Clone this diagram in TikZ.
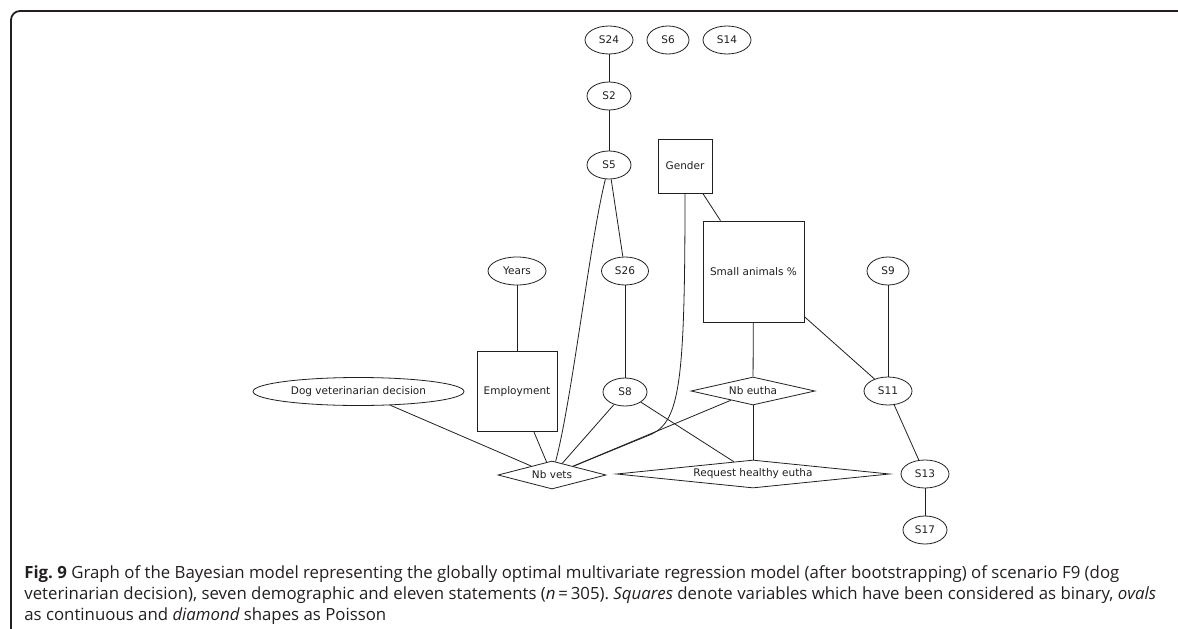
\documentclass[tikz,border=0pt]{standalone}
\usepackage{fontspec}
\usetikzlibrary{shapes.geometric}
\newfontfamily\graphfont{DejaVu Sans}
\newfontfamily\capfont{Open Sans}
\definecolor{ink}{HTML}{231F20}
\frenchspacing

\begin{document}
\begin{tikzpicture}[x=1pt,y=-1pt,
  every node/.style={font=\graphfont\fontsize{10.5}{12}\selectfont, text=ink, draw=ink, line width=0.8pt, inner sep=0pt},
  oval/.style={ellipse, minimum height=28pt, minimum width=#1pt},
  oval/.default=46,
  boxnode/.style={rectangle, minimum width=#1pt, minimum height=#1pt},
  poisson/.style 2 args={diamond, minimum width=#1pt, minimum height=28pt, shape aspect=#2},
  link/.style={draw=ink, line width=0.8pt},
  captext/.style={draw=none, font=\capfont\fontsize{16.8}{21}\selectfont, anchor=base west, inner sep=0pt}
]
% page area and frame
\fill[white] (0,0) rectangle (1178,629);
\useasboundingbox (0,0) rectangle (1178,629);
\draw[ink, line width=1.8pt, rounded corners=9pt] (11,640) -- (11,11) -- (1190,11);

% statement and demographic variables
\node[oval=48] (s24) at (609,40) {S24};
\node[oval=42] (s6) at (668,40) {S6};
\node[oval=48] (s14) at (727,40) {S14};
\node[oval=44] (s2) at (609,96) {S2};
\node[oval=44] (s5) at (609,165) {S5};
\node[boxnode=54] (gender) at (685,166) {Gender};
\node[boxnode=101] (small) at (753.5,271.5) {Small animals \%};
\node[oval=58] (years) at (517,271) {Years};
\node[oval=47] (s26) at (625,271) {S26};
\node[oval=42] (s9) at (888,271) {S9};
\node[oval=211] (dog) at (358.5,391.5) {Dog veterinarian decision};
\node[boxnode=80] (employ) at (517,391.5) {Employment};
\node[oval=44] (s8) at (625,392) {S8};
\node[poisson={124}{5}] (nbeutha) at (753,391) {Nb eutha};
\node[oval=48] (s11) at (888,391) {S11};
\node[poisson={108}{4}] (nbvets) at (552,475) {Nb vets};
\node[poisson={273}{10}] (request) at (753,474) {Request healthy eutha};
\node[oval=48] (s13) at (925,474) {S13};
\node[oval=44] (s17) at (925,530) {S17};

% dependencies
\draw[link] (s24) -- (s2);
\draw[link] (s2) -- (s5);
\draw[link] (s5) -- (s26);
\draw[link] (s26) -- (s8);
\draw[link] (s5) .. controls (590,240) and (572,400) .. (nbvets);
\draw[link] (gender) .. controls (685,380) and (680,420) .. (652,434) -- (nbvets);
\draw[link] (gender) -- (small);
\draw[link] (small) -- (nbeutha);
\draw[link] (small) -- (s11);
\draw[link] (years) -- (employ);
\draw[link] (employ) -- (nbvets);
\draw[link] (dog) -- (nbvets);
\draw[link] (s8) -- (nbvets);
\draw[link] (s8) -- (request);
\draw[link] (nbeutha) -- (nbvets);
\draw[link] (nbeutha) -- (request);
\draw[link] (s9) -- (s11);
\draw[link] (s11) -- (s13);
\draw[link] (s13) -- (s17);

% caption
\node[captext] (cap1) at (24,578) {\textbf{Fig. 9} Graph of the Bayesian model representing the globally optimal multivariate regression model (after bootstrapping) of scenario F9 (dog};
\node[captext] (cap2) at (24,599) {veterinarian decision), seven demographic and eleven statements ({\itshape n}\,=\,305). {\itshape Squares} denote variables which have been considered as binary, {\itshape ovals}};
\node[captext] (cap3) at (24,620) {as continuous and {\itshape diamond} shapes as Poisson};
\end{tikzpicture}
\end{document}
